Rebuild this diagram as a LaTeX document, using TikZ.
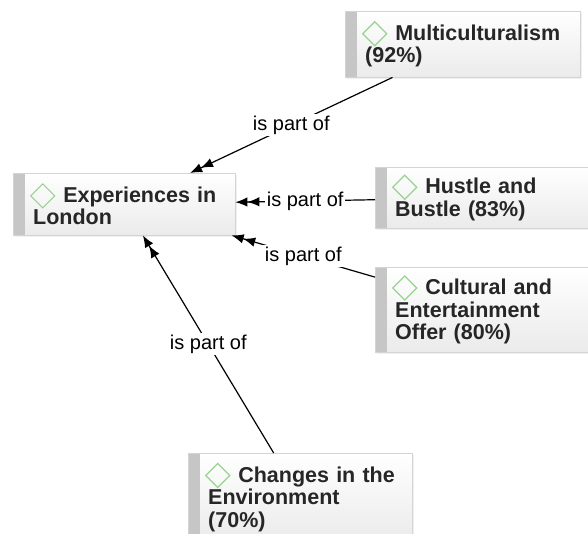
\documentclass[tikz,border=0pt]{standalone}
\usepackage{fontspec}
\setmainfont{Liberation Sans}
\usepackage{xcolor}
\usetikzlibrary{arrows.meta,shadows}
\definecolor{icongreen}{HTML}{98D490}
\definecolor{bargray}{HTML}{C6C6C6}
\definecolor{boxline}{HTML}{D4D4D4}
\definecolor{boxtext}{HTML}{262626}
\hyphenpenalty=10000
\newcommand{\dmd}{\kern-3pt\tikz[baseline=0pt,x=1pt,y=1pt]\draw[icongreen,line width=1.1pt] (0,6.5) -- (12,18.5) -- (24,6.5) -- (12,-5.5) -- cycle;\kern8pt\relax}

\begin{document}
\begin{tikzpicture}[
    x=1pt, y=-1pt,
    concept/.style={rectangle, draw=boxline, top color=white, bottom color=black!8, anchor=north west, inner xsep=20pt, inner ysep=4pt, align=left, text=boxtext, font=\fontsize{21.5pt}{22.5pt}\selectfont\bfseries, drop shadow={opacity=0.12, shadow xshift=1.5pt, shadow yshift=-2pt}, path picture={\fill[bargray] (path picture bounding box.north west) rectangle ([xshift=12pt]path picture bounding box.south west);}},
    rel/.style={fill=white, inner sep=1.5pt, text=black, font=\fontsize{20pt}{22pt}\selectfont},
    arr/.style={-{Latex[length=12pt,width=9.5pt]Latex[length=12pt,width=9.5pt]}, line width=1.2pt, draw=black}
]
    \useasboundingbox (0,0) rectangle (588,533);
    \clip (0,0) rectangle (588,533);

    \node [concept, text width=195pt, minimum height=66] (multi) at (345,11) {\dmd Multiculturalism\\(92\%)};
    \node [concept, text width=182pt, minimum height=62] (exp) at (13,173) {\dmd Experiences~in\\London};
    \node [concept, text width=185pt, minimum height=61] (hustle) at (375,167) {\dmd Hustle~and\\Bustle~(83\%)};
    \node [concept, text width=185pt, minimum height=85] (culture) at (375,267) {\dmd Cultural~and\\Entertainment\\Offer~(80\%)};
    \node [concept, text width=184pt, minimum height=88] (env) at (188,453) {\dmd Changes~in~the\\Environment\\(70\%)};

    \draw [arr] (multi) -- node [rel] (l1) {is part of} (exp);
    \draw [arr] (hustle) -- node [rel] (l2) {is part of} (exp);
    \draw [arr] (culture) -- node [rel] (l3) {is part of} (exp);
    \draw [arr] (env) -- node [rel] (l4) {is part of} (exp);
\end{tikzpicture}
\end{document}
